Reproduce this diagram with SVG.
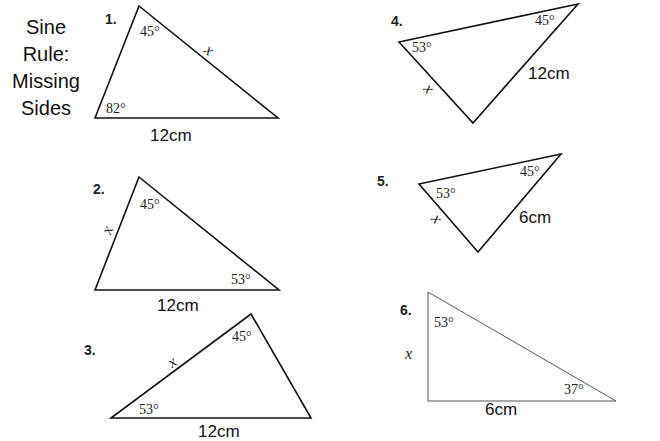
<svg xmlns="http://www.w3.org/2000/svg" width="660" height="441" viewBox="0 0 660 441">
<style>
.tri{fill:none;stroke:#111;stroke-width:1.6;stroke-linejoin:miter}
.tri6{fill:none;stroke:#555;stroke-width:1}
.ang{font-family:"Liberation Serif",serif;font-size:14px;fill:#222}
.side{font-family:"Liberation Sans",Arial,sans-serif;font-size:17px;fill:#111}
.num{font-family:"Liberation Sans",Arial,sans-serif;font-size:14px;font-weight:bold;fill:#222}
.var{font-family:"Liberation Serif",serif;font-style:italic;font-size:16px;fill:#222}
.title{font-family:"Liberation Sans",Arial,sans-serif;font-size:20px;fill:#111;text-anchor:middle}
</style>
<rect width="660" height="441" fill="#fff"/>
<g id="title">
<text class="title" x="46" y="34">Sine</text>
<text class="title" x="46" y="61">Rule:</text>
<text class="title" x="46" y="88">Missing</text>
<text class="title" x="46" y="115">Sides</text>
</g>
<g id="connectors">
<polygon class="tri" points="139,6 278,118 95,118"/>
<polygon class="tri" points="139,177 279,290 95,290"/>
<polygon class="tri" points="251,314 311,418 111,418"/>
<polygon class="tri" points="399,42 578,4 473,123"/>
<polygon class="tri" points="419,184 561,154 478,252"/>
<polygon class="tri6" points="428,292 616,401 428,401"/>
</g>
<g id="q1">
<text class="num" x="105" y="24">1.</text>
<text class="ang" x="140" y="36">45°</text>
<text class="ang" x="106" y="113">82°</text>
<text class="var" transform="translate(206,54) rotate(39)" text-anchor="middle">x</text>
<text class="side" x="150" y="141">12cm</text>
</g>
<g id="q2">
<text class="num" x="93" y="194">2.</text>
<text class="ang" x="140" y="209">45°</text>
<text class="ang" x="231" y="284">53°</text>
<text class="var" transform="translate(112,232) rotate(-69)" text-anchor="middle">x</text>
<text class="side" x="157" y="311">12cm</text>
</g>
<g id="q3">
<text class="num" x="84" y="355">3.</text>
<text class="ang" x="232" y="341">45°</text>
<text class="ang" x="139" y="414">53°</text>
<text class="var" transform="translate(175,366) rotate(-37)" text-anchor="middle">x</text>
<text class="side" x="198" y="437">12cm</text>
</g>
<g id="q4">
<text class="num" x="391" y="26">4.</text>
<text class="ang" x="535" y="25">45°</text>
<text class="ang" x="412" y="52">53°</text>
<text class="var" transform="translate(425,92) rotate(48)" text-anchor="middle">x</text>
<text class="side" x="528" y="79">12cm</text>
</g>
<g id="q5">
<text class="num" x="377" y="186">5.</text>
<text class="ang" x="520" y="176">45°</text>
<text class="ang" x="436" y="198">53°</text>
<text class="var" transform="translate(433,222) rotate(49)" text-anchor="middle">x</text>
<text class="side" x="519" y="223">6cm</text>
</g>
<g id="q6">
<text class="num" x="400" y="315">6.</text>
<text class="ang" x="434" y="327">53°</text>
<text class="ang" x="564" y="394">37°</text>
<text class="var" x="405" y="359">x</text>
<text class="side" x="485" y="415">6cm</text>
</g>
</svg>
